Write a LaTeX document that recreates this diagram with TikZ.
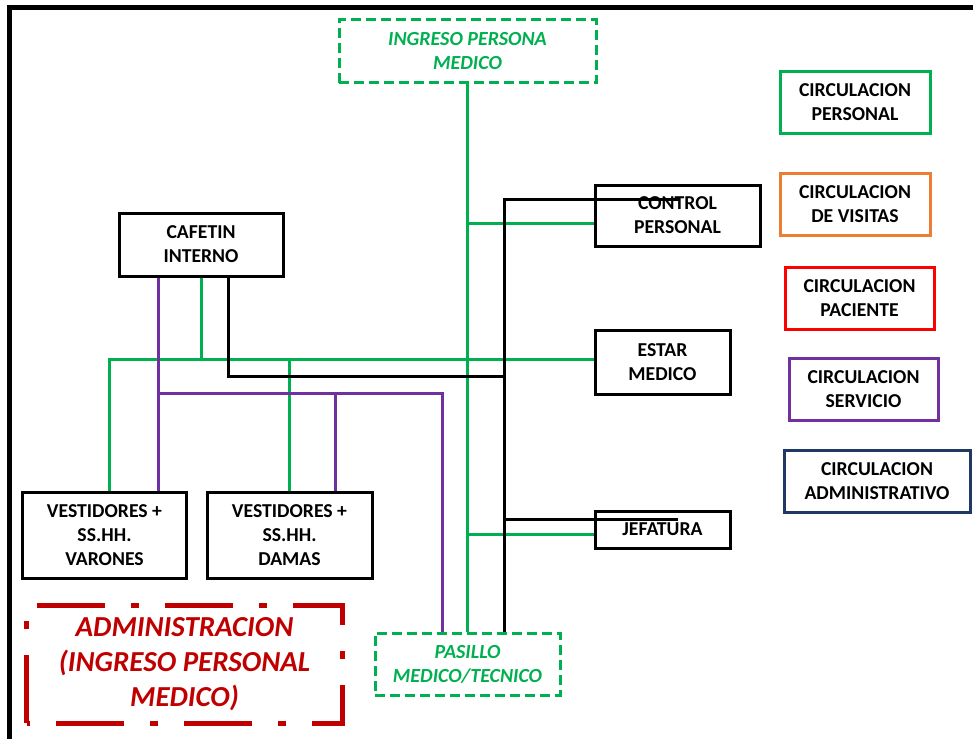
\documentclass[tikz,border=0pt]{standalone}
\usepackage{fontspec}
\setmainfont{Carlito}
\usepackage{tikz}
\usetikzlibrary{positioning,calc}
\definecolor{verde}{HTML}{00B050}
\definecolor{morado}{HTML}{7030A0}
\definecolor{naranja}{HTML}{ED7D31}
\definecolor{rojo}{HTML}{FF0000}
\definecolor{granate}{HTML}{C00000}
\definecolor{azul}{HTML}{1F3864}
\newcommand \mycirc[6]
{
\node[caja,draw=#2,minimum width=#5,minimum height=62pt] (#1) at (#3,#4) {CIRCULACION\\#6};
}
\begin{document}
\begin{tikzpicture}[x=1pt,y=-1pt, line join=miter,
  caja/.style={draw,line width=3pt,align=center,inner sep=0pt,font=\fontsize{19.7}{24}\selectfont\bfseries},
  cajav/.style={caja,draw=verde,text=verde,dash pattern=on 10pt off 5pt,font=\fontsize{20}{24}\selectfont\bfseries\itshape},
  lverde/.style={verde,line width=3pt},
  lmorado/.style={morado,line width=3pt},
  lnegro/.style={black,line width=3pt}]
\useasboundingbox (0,0) rectangle (973,739);
\draw[line width=4.5pt] (9.5,739)--(9.5,7.5)--(973,7.5);
% recintos
\node[cajav,minimum width=257pt,minimum height=63pt] (ingreso) at (467.5,51) {INGRESO PERSONA\\MEDICO};
\node[cajav,minimum width=185pt,minimum height=62pt] (pasillo) at (467.5,664) {PASILLO\\MEDICO/TECNICO};
\node[caja,minimum width=165pt,minimum height=61pt] (control) at (677.5,215.5) {CONTROL\\PERSONAL};
\node[caja,minimum width=164pt,minimum height=63pt] (cafetin) at (201,244.5) {CAFETIN\\INTERNO};
\node[caja,minimum width=135pt,minimum height=64pt] (estar) at (662.5,362) {ESTAR\\MEDICO};
\node[caja,minimum width=135pt,minimum height=37pt] (jefatura) at (662.5,529.5) {JEFATURA};
\node[caja,minimum width=164pt,minimum height=86pt] (varones) at (104.5,535) {VESTIDORES +\\SS.HH.\\VARONES};
\node[caja,minimum width=165pt,minimum height=86pt] (damas) at (289.5,535) {VESTIDORES +\\SS.HH.\\DAMAS};
\node[align=center,inner sep=0pt,minimum width=315pt,minimum height=117pt,text=granate,
  font=\fontsize{29}{35}\selectfont\bfseries\itshape] (admin) at (184.5,664.5) {ADMINISTRACION\\(INGRESO PERSONAL\\MEDICO)};
\draw[granate,line width=5pt,dash pattern=on 68pt off 26pt on 8pt off 26pt]
  (admin.south west)--(admin.north west)--(admin.north east)--(admin.south east)--(admin.south west);
% leyenda
\mycirc{cper}{verde}{855}{102}{150pt}{PERSONAL}
\mycirc{cvis}{naranja}{855}{204.5}{150pt}{DE VISITAS}
\mycirc{cpac}{rojo}{859.5}{298}{149pt}{PACIENTE}
\mycirc{cser}{morado}{863.5}{389}{149pt}{SERVICIO}
\mycirc{cadm}{azul}{877}{481}{186pt}{ADMINISTRATIVO}
% circulacion personal
\coordinate (g1) at (467.5,223);
\coordinate (g2) at (467.5,534);
\coordinate (g3) at (109.5,359);
\draw[lverde] (ingreso.south)--(pasillo.north);
\draw[lverde] (g1)--(g1 -| control.west);
\draw[lverde] (varones.north -| g3)--(g3)--(g3 -| estar.west);
\draw[lverde] (cafetin.south)--(cafetin.south |- g3);
\draw[lverde] (damas.north)--(damas.north |- g3);
\draw[lverde] (g2)--(g2 -| jefatura.west);
% circulacion servicio
\coordinate (p1) at (158,393);
\coordinate (p2) at (335,393);
\draw[lmorado] (p1 |- cafetin.south)--(p1 |- varones.north);
\draw[lmorado] (p1)-|([xshift=-25.5pt]pasillo.north);
\draw[lmorado] (p2)--(p2 |- damas.north);
% negro
\coordinate (n1) at (680,199.5);
\coordinate (n2) at (504,376);
\coordinate (n3) at (678,519.5);
\draw[lnegro] (n1)-|([xshift=36.5pt]pasillo.north);
\draw[lnegro] ([xshift=27pt]cafetin.south)|-(n2);
\draw[lnegro] (n3)--(n3 -| n2);
\end{tikzpicture}
\end{document}
